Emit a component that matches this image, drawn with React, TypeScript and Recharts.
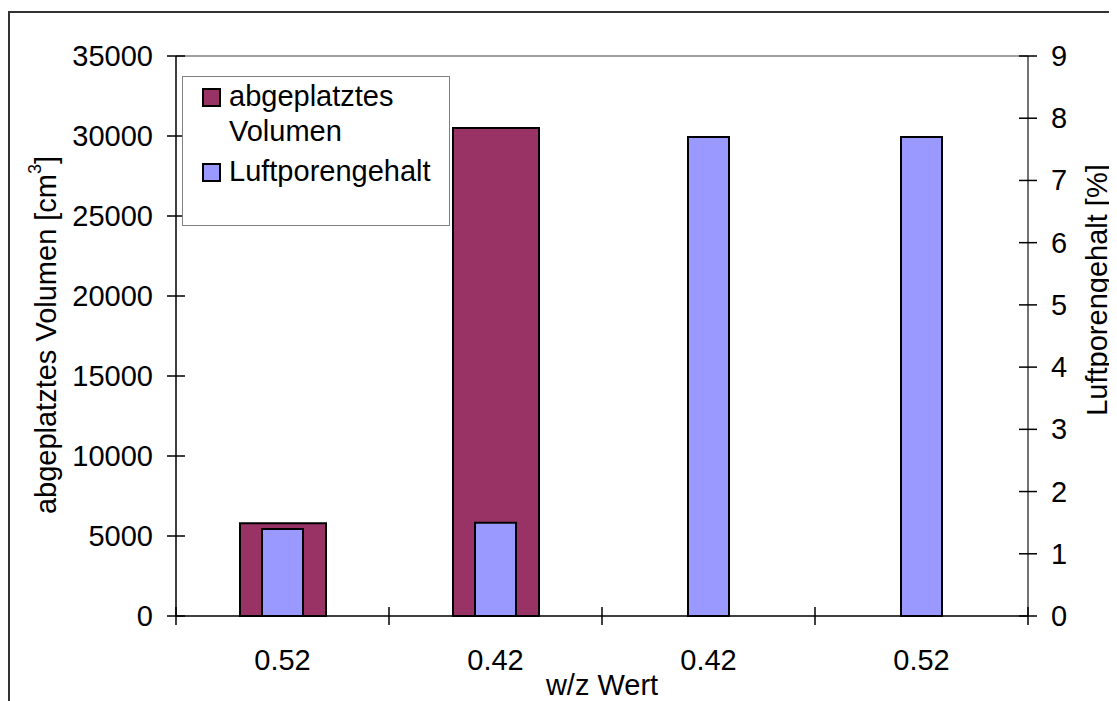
import React from 'react';
import { BarChart, Bar, XAxis, YAxis, ReferenceLine } from 'recharts';

// w/z values per test series
const categories = ['0.52', '0.42', '0.42', '0.52'];
// spalled volume in cm³ (left axis)
const volumen = [5800, 30500, null, null];
// air void content in % (right axis)
const luftporen = [1.4, 1.5, 7.7, 7.7];

const volumenTicks = [0, 5000, 10000, 15000, 20000, 25000, 30000, 35000];
const luftTicks = [0, 1, 2, 3, 4, 5, 6, 7, 8, 9];

const W = 1109;
const H = 693;
const PL = 168;
const PR = 1020;
const PT = 48;
const PB = 608;
const BAND = (PR - PL) / categories.length;
const FONT = '"Liberation Sans", Arial, sans-serif';
const FS = 29;

const data = categories.map((c, i) => ({
  id: i,
  label: c,
  volumen: volumen[i],
  luft: luftporen[i],
}));

const LeftTick = (props: any) => {
  const { y, payload } = props;
  return (
    <g>
      <line x1={PL - 9} x2={PL + 9} y1={y} y2={y} stroke="#000" strokeWidth={1.5} />
      <text x={PL - 23} y={y} textAnchor="end" dominantBaseline="central" fontSize={FS} fill="#000">
        {payload.value}
      </text>
    </g>
  );
};

const RightTick = (props: any) => {
  const { y, payload } = props;
  return (
    <g>
      <line x1={PR - 9} x2={PR + 9} y1={y} y2={y} stroke="#000" strokeWidth={1.5} />
      <text x={PR + 23} y={y} textAnchor="start" dominantBaseline="central" fontSize={FS} fill="#000">
        {payload.value}
      </text>
    </g>
  );
};

const BottomTick = (props: any) => {
  const { x, payload, index } = props;
  const left = x - BAND / 2;
  return (
    <g>
      <line x1={left} x2={left} y1={PB - 9} y2={PB + 9} stroke="#000" strokeWidth={1.5} />
      {index === categories.length - 1 && (
        <line x1={x + BAND / 2} x2={x + BAND / 2} y1={PB - 9} y2={PB + 9} stroke="#000" strokeWidth={1.5} />
      )}
      <text x={x} y={652} textAnchor="middle" dominantBaseline="central" fontSize={FS} fill="#000">
        {categories[payload.value]}
      </text>
    </g>
  );
};

const LegendBox = () => (
  <div
    style={{
      position: 'absolute',
      left: 174,
      top: 68,
      width: 266,
      height: 148,
      border: '1px solid #808080',
      background: '#fff',
      fontFamily: FONT,
      fontSize: FS,
      color: '#000',
    }}
  >
    <div style={{ position: 'absolute', left: 19, top: 11, width: 15, height: 15, background: '#993366', border: '2px solid #000' }} />
    <div style={{ position: 'absolute', left: 46, top: 2, lineHeight: '35px' }}>
      abgeplatztes
      <br />
      Volumen
    </div>
    <div style={{ position: 'absolute', left: 19, top: 86, width: 15, height: 15, background: '#9999FF', border: '2px solid #000' }} />
    <div style={{ position: 'absolute', left: 46, top: 77, lineHeight: '35px' }}>Luftporengehalt</div>
  </div>
);

export default function App() {
  return (
    <div style={{ position: 'relative', width: W, height: H, overflow: 'hidden', background: '#fff' }}>
      <div
        style={{
          position: 'absolute',
          left: 0,
          top: 3,
          width: 1300,
          height: 900,
          border: '2px solid #333',
        }}
      />
      <div style={{ position: 'absolute', left: 0, top: 0 }}>
        <BarChart
          width={W}
          height={H}
          data={data}
          margin={{ top: PT, right: 0, bottom: 0, left: 0 }}
          style={{ fontFamily: FONT }}
        >
          <XAxis
            xAxisId="vol"
            dataKey="id"
            type="category"
            height={H - PB}
            axisLine={{ stroke: '#000', strokeWidth: 1.5 }}
            tickLine={false}
            tick={<BottomTick />}
            interval={0}
            label={{
              content: () => (
                <text x={(PL + PR) / 2} y={687} textAnchor="middle" fontSize={FS} fill="#000">
                  w/z Wert
                </text>
              ),
            }}
          />
          <XAxis xAxisId="luft" dataKey="id" type="category" height={0} hide />
          <YAxis
            yAxisId="left"
            width={PL}
            domain={[0, 35000]}
            ticks={volumenTicks}
            interval={0}
            axisLine={{ stroke: '#000', strokeWidth: 1.5 }}
            tickLine={false}
            tick={<LeftTick />}
            label={{
              content: () => (
                <text
                  x={38}
                  y={327}
                  transform="rotate(-90, 38, 327)"
                  textAnchor="middle"
                  dominantBaseline="central"
                  fontSize={FS}
                  fill="#000"
                >
                  abgeplatztes Volumen [cm
                  <tspan dy={-11} fontSize={18}>3</tspan>
                  <tspan dy={11}>]</tspan>
                </text>
              ),
            }}
          />
          <YAxis
            yAxisId="right"
            orientation="right"
            width={W - PR}
            domain={[0, 9]}
            ticks={luftTicks}
            interval={0}
            axisLine={{ stroke: '#444', strokeWidth: 1.5 }}
            tickLine={false}
            tick={<RightTick />}
            label={{
              content: () => (
                <text
                  x={1089}
                  y={282}
                  transform="rotate(-90, 1089, 282)"
                  textAnchor="middle"
                  dominantBaseline="central"
                  fontSize={FS}
                  fill="#000"
                >
                  Luftporengehalt [%]
                </text>
              ),
            }}
          />
          <ReferenceLine xAxisId="vol" yAxisId="left" y={35000} stroke="#808080" strokeWidth={1.5} />
          <Bar
            xAxisId="vol"
            yAxisId="left"
            dataKey="volumen"
            name="abgeplatztes Volumen"
            barSize={86}
            fill="#993366"
            stroke="#000"
            strokeWidth={2}
            isAnimationActive={false}
          />
          <Bar
            xAxisId="luft"
            yAxisId="right"
            dataKey="luft"
            name="Luftporengehalt"
            barSize={41}
            fill="#9999FF"
            stroke="#000"
            strokeWidth={2}
            isAnimationActive={false}
          />
        </BarChart>
      </div>
      <LegendBox />
    </div>
  );
}
